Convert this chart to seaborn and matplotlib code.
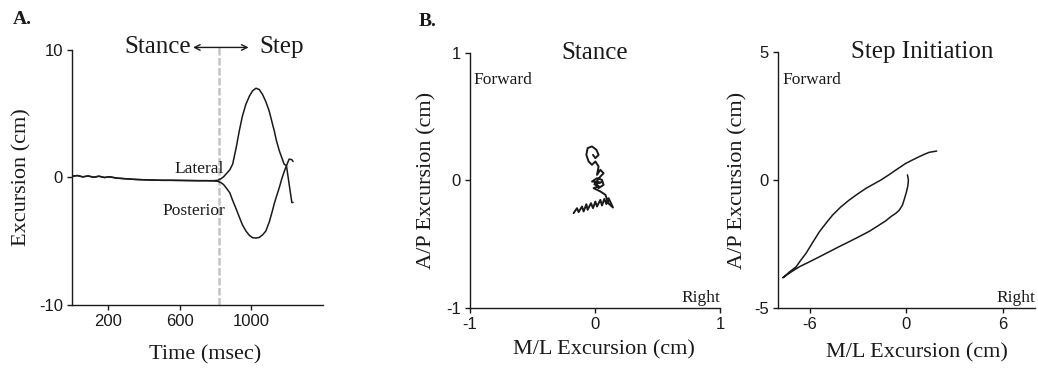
import numpy as np
import pandas as pd
import matplotlib
matplotlib.use("Agg")
import matplotlib.pyplot as plt
import seaborn as sns

# ---- Panel A: excursion over time (msec, cm) ----
time_ms = [0, 30, 60, 90, 120, 150, 180, 210, 250, 300, 350, 400, 450, 500, 550,
           600, 650, 700, 750, 790, 813, 830, 845, 859, 880, 896, 915, 933, 950,
           970, 990, 1007, 1026, 1044, 1063, 1081, 1100, 1118, 1128, 1140, 1156,
           1170, 1183, 1196, 1211, 1226, 1233]
lateral_cm = [0.10, 0.15, 0.05, 0.12, 0.02, 0.10, 0.00, 0.05, -0.05, -0.10, -0.15,
              -0.18, -0.20, -0.22, -0.22, -0.23, -0.24, -0.25, -0.25, -0.25, -0.22,
              -0.10, 0.05, 0.27, 0.60, 1.05, 2.30, 3.66, 4.80, 5.75, 6.40, 6.80,
              7.00, 6.90, 6.50, 5.95, 5.20, 4.20, 3.66, 2.90, 2.10, 1.55, 1.05,
              0.92, -0.52, -1.96, -1.96]
posterior_cm = [0.10, 0.15, 0.05, 0.12, 0.02, 0.10, 0.00, 0.05, -0.05, -0.10, -0.15,
                -0.18, -0.20, -0.22, -0.22, -0.23, -0.24, -0.25, -0.25, -0.27, -0.30,
                -0.40, -0.55, -0.80, -1.20, -1.80, -2.45, -3.10, -3.70, -4.20, -4.55,
                -4.72, -4.75, -4.70, -4.50, -4.20, -3.50, -2.60, -2.05, -1.50, -0.80,
                -0.10, 0.45, 0.92, 1.44, 1.40, 1.25]
step_onset_ms = 817

# ---- Panel B: centre-of-pressure path (cm) during quiet stance ----
stance_ml = [-0.171, -0.144, -0.131, -0.104, -0.091, -0.069, -0.059, -0.032, -0.016,
             0.003, 0.016, 0.043, 0.056, 0.075, 0.091, 0.109, 0.144, 0.109, 0.083,
             0.043, -0.011, 0.030, -0.005, 0.050, -0.024, 0.016, 0.056, 0.069,
             0.029, 0.003, 0.043, 0.069, 0.043, 0.016, 0.029, 0.003, -0.024,
             -0.051, -0.069, -0.059, -0.024, 0.011, 0.029, 0.003, -0.016]
stance_ap = [-0.256, -0.217, -0.248, -0.204, -0.243, -0.186, -0.230, -0.178, -0.217,
             -0.165, -0.204, -0.152, -0.196, -0.144, -0.185, -0.139, -0.212, -0.181,
             -0.112, -0.086, -0.060, -0.045, -0.030, -0.015, -0.008, 0.018, 0.005,
             -0.034, -0.060, -0.021, 0.031, 0.057, 0.084, 0.044, 0.110, 0.149,
             0.123, 0.149, 0.201, 0.254, 0.267, 0.241, 0.201, 0.175, 0.201]

# ---- Panel B: centre-of-pressure path (cm) during step initiation ----
step_ml = [0.06, 0.12, 0.08, 0.00, -0.12, -0.25, -0.45, -0.66, -0.97, -1.30, -1.70,
           -2.30, -2.94, -3.60, -4.18, -4.80, -5.42, -6.05, -6.67, -7.20, -7.70,
           -7.30, -6.87, -6.60, -6.25, -5.85, -5.42, -5.00, -4.60, -4.10, -3.56,
           -3.05, -2.53, -2.05, -1.59, -1.10, -0.66, -0.35, -0.04, 0.40, 0.79,
           1.10, 1.41, 1.88]
step_ap = [0.20, 0.00, -0.25, -0.46, -0.72, -0.98, -1.18, -1.30, -1.43, -1.60, -1.76,
           -2.00, -2.21, -2.42, -2.60, -2.80, -3.00, -3.20, -3.39, -3.60, -3.82,
           -3.60, -3.39, -3.15, -2.86, -2.45, -2.02, -1.68, -1.37, -1.06, -0.78,
           -0.55, -0.33, -0.16, 0.00, 0.20, 0.39, 0.52, 0.65, 0.79, 0.91,
           1.00, 1.08, 1.13]

a_xticks = [200, 600, 1000]
a_yticks = [-10, 0, 10]
b1_ticks = [-1, 0, 1]
b2_xticks = [-6, 0, 6]
b2_yticks = [-5, 0, 5]

sns.set_theme(style="ticks")
plt.rcParams["font.family"] = ["Liberation Serif", "DejaVu Serif"]
plt.rcParams["axes.unicode_minus"] = False
plt.rcParams["axes.linewidth"] = 1.0
plt.rcParams["xtick.major.size"] = 3.5
plt.rcParams["ytick.major.size"] = 3.5
plt.rcParams["xtick.major.width"] = 1.0
plt.rcParams["ytick.major.width"] = 1.0

SERIF = ["Liberation Serif", "DejaVu Serif"]
SANS = ["Liberation Sans", "DejaVu Sans"]
INK = "#1a1a1a"

fig = plt.figure(figsize=(10.38, 3.70), dpi=100)
axA = fig.add_axes([0.0694, 0.1757, 0.2418, 0.6892])
axB1 = fig.add_axes([0.4528, 0.1676, 0.2408, 0.6892])
axB2 = fig.add_axes([0.7495, 0.1676, 0.2476, 0.6919])


def style_axes(ax):
    sns.despine(ax=ax)
    ax.set_facecolor("white")
    for lab in ax.get_xticklabels() + ax.get_yticklabels():
        lab.set_family(SANS)
        lab.set_fontsize(12)
        lab.set_color(INK)
    ax.tick_params(colors=INK, pad=3)
    for s in ("left", "bottom"):
        ax.spines[s].set_color(INK)


# Panel A
dfA = pd.DataFrame({"time": time_ms * 2,
                    "cm": lateral_cm + posterior_cm,
                    "series": ["Lateral"] * len(time_ms) + ["Posterior"] * len(time_ms)})
axA.axvline(step_onset_ms, ymin=0, ymax=1.02, color="#c4c4c4", lw=1.8,
            ls=(0, (3, 1)), clip_on=False, zorder=1)
sns.lineplot(data=dfA, x="time", y="cm", units="series", estimator=None,
             color=INK, lw=1.1, ax=axA, zorder=3)
axA.set_xlim(0, 1400)
axA.set_ylim(-10, 10)
axA.set_xticks(a_xticks)
axA.set_yticks(a_yticks)
axA.set_xlabel("Time (msec)", family=SERIF, fontsize=16, color=INK)
axA.set_ylabel("Excursion (cm)", family=SERIF, fontsize=16, color=INK)
axA.xaxis.set_label_coords(0.53, -0.157)
axA.yaxis.set_label_coords(-0.16, 0.5)
axA.text(845, 0.65, "Lateral", family=SERIF, fontsize=12.5, ha="right", va="center", color=INK)
axA.text(855, -2.6, "Posterior", family=SERIF, fontsize=12.5, ha="right", va="center", color=INK)
axA.annotate("", xy=(675, 10.2), xytext=(985, 10.2),
             arrowprops=dict(arrowstyle="<->", color=INK, lw=1.0, mutation_scale=10,
                             shrinkA=0, shrinkB=0),
             annotation_clip=False)
axA.text(478, 10.2, "Stance", family=SERIF, fontsize=18, ha="center", va="center", color=INK)
axA.text(1170, 10.2, "Step", family=SERIF, fontsize=18, ha="center", va="center", color=INK)
style_axes(axA)

# Panel B, stance
dfB1 = pd.DataFrame({"ml": stance_ml, "ap": stance_ap})
sns.lineplot(data=dfB1, x="ml", y="ap", sort=False, estimator=None,
             color=INK, lw=1.4, ax=axB1)
axB1.set_xlim(-1, 1)
axB1.set_ylim(-1, 1)
axB1.set_xticks(b1_ticks)
axB1.set_yticks(b1_ticks)
axB1.set_xlabel("M/L Excursion (cm)", family=SERIF, fontsize=16, color=INK)
axB1.set_ylabel("A/P Excursion (cm)", family=SERIF, fontsize=16, color=INK)
axB1.xaxis.set_label_coords(0.536, -0.125)
axB1.yaxis.set_label_coords(-0.136, 0.5)
axB1.text(0.5, 1.0, "Stance", transform=axB1.transAxes, family=SERIF, fontsize=18,
          ha="center", va="center", color=INK)
axB1.text(-0.97, 0.79, "Forward", family=SERIF, fontsize=12.5, ha="left", va="center", color=INK)
axB1.text(1.0, -0.985, "Right", family=SERIF, fontsize=12.5, ha="right", va="bottom", color=INK)
style_axes(axB1)

# Panel B, step initiation
dfB2 = pd.DataFrame({"ml": step_ml, "ap": step_ap})
sns.lineplot(data=dfB2, x="ml", y="ap", sort=False, estimator=None,
             color=INK, lw=1.1, ax=axB2)
axB2.set_xlim(-8, 8)
axB2.set_ylim(-5, 5)
axB2.set_xticks(b2_xticks)
axB2.set_yticks(b2_yticks)
axB2.set_xlabel("M/L Excursion (cm)", family=SERIF, fontsize=16, color=INK)
axB2.set_ylabel("A/P Excursion (cm)", family=SERIF, fontsize=16, color=INK)
axB2.xaxis.set_label_coords(0.54, -0.137)
axB2.yaxis.set_label_coords(-0.12, 0.5)
axB2.text(0.56, 1.0, "Step Initiation", transform=axB2.transAxes, family=SERIF,
          fontsize=18, ha="center", va="center", color=INK)
axB2.text(-7.7, 3.9, "Forward", family=SERIF, fontsize=12.5, ha="left", va="center", color=INK)
axB2.text(8.0, -4.93, "Right", family=SERIF, fontsize=12.5, ha="right", va="bottom", color=INK)
style_axes(axB2)

fig.text(22 / 1038, 1 - 20 / 370, "A.", family=SERIF, fontsize=14, fontweight="bold",
         ha="center", va="center", color=INK)
fig.text(428 / 1038, 1 - 21 / 370, "B.", family=SERIF, fontsize=14, fontweight="bold",
         ha="center", va="center", color=INK)

fig.savefig("out.png", dpi=100, facecolor="white")
